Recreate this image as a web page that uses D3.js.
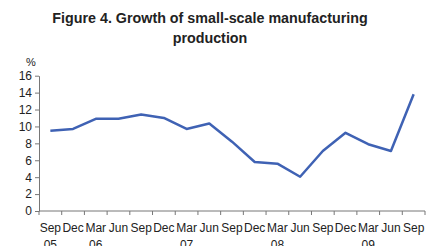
<!DOCTYPE html>
<html><head><meta charset="utf-8">
<script src="https://cdn.jsdelivr.net/npm/d3@7"></script>
<style>body{margin:0;background:#fff;}svg{display:block;font-family:"Liberation Sans",Arial,sans-serif;}</style>
</head><body>
<svg id="c" width="430" height="246"></svg>
<script>
const months = ["Sep","Dec","Mar","Jun","Sep","Dec","Mar","Jun","Sep","Dec","Mar","Jun","Sep","Dec","Mar","Jun","Sep"];
const years  = ["05","","06","","","","07","","","","08","","","","09","",""];
const values = [9.5,9.7,10.9,10.9,11.4,11.0,9.7,10.35,8.2,5.8,5.6,4.05,7.1,9.25,7.9,7.1,13.8];
const yTicks = [0,2,4,6,8,10,12,14,16];

const svg = d3.select("#c");
const m = {l:39, r:425, t:75.7, b:211};
const idx = d3.range(values.length);
const x = d3.scaleBand().domain(idx).range([m.l, m.r]);
const y = d3.scaleLinear().domain([0,16]).range([m.b, m.t]);

svg.append("text").attr("x",210).attr("y",23).attr("text-anchor","middle")
  .attr("font-size",14.3).attr("font-weight","bold").attr("fill","#222")
  .text("Figure 4. Growth of small-scale manufacturing");
svg.append("text").attr("x",210).attr("y",43).attr("text-anchor","middle")
  .attr("font-size",14.3).attr("font-weight","bold").attr("fill","#222")
  .text("production");

svg.append("text").attr("x",26).attr("y",65.5).attr("font-size",11).attr("fill","#222").text("%");

const ya = svg.append("g").attr("transform",`translate(${m.l},0)`)
  .call(d3.axisLeft(y).tickValues(yTicks).tickSize(4).tickPadding(3).tickSizeOuter(0));
ya.select(".domain").attr("stroke","#777");
ya.selectAll(".tick line").attr("stroke","#777");
ya.selectAll(".tick text").attr("font-size",12).attr("fill","#222").attr("font-family","Liberation Sans, Arial, sans-serif");

const xa = svg.append("g").attr("transform",`translate(0,${m.b})`)
  .call(d3.axisBottom(x).tickSize(0).tickFormat(""));
xa.select(".domain").attr("stroke","#777").attr("d",`M${m.l},0H${m.r}`);
const bounds = d3.range(values.length+1).map(i => m.l + i*x.step());
xa.selectAll(".bt").data(bounds).enter().append("line").attr("class","bt")
  .attr("x1",d=>d).attr("x2",d=>d).attr("y1",0).attr("y2",4).attr("stroke","#777");

const lbl = svg.append("g");
lbl.selectAll("text.m").data(idx).enter().append("text").attr("class","m")
  .attr("x",i=>x(i)+x.bandwidth()/2).attr("y",232).attr("text-anchor","middle")
  .attr("font-size",12).attr("fill","#222").text(i=>months[i]);
lbl.selectAll("text.yr").data(idx.filter(i=>years[i])).enter().append("text").attr("class","yr")
  .attr("x",i=>x(i)+x.bandwidth()/2).attr("y",249).attr("text-anchor","middle")
  .attr("font-size",12).attr("fill","#222").text(i=>years[i]);

const line = d3.line().x(i=>x(i)+x.bandwidth()/2).y(i=>y(values[i]));
svg.append("path").datum(idx).attr("d",line).attr("fill","none")
  .attr("stroke","#3f62b4").attr("stroke-width",2.5).attr("stroke-linejoin","round");
</script>
</body></html>
